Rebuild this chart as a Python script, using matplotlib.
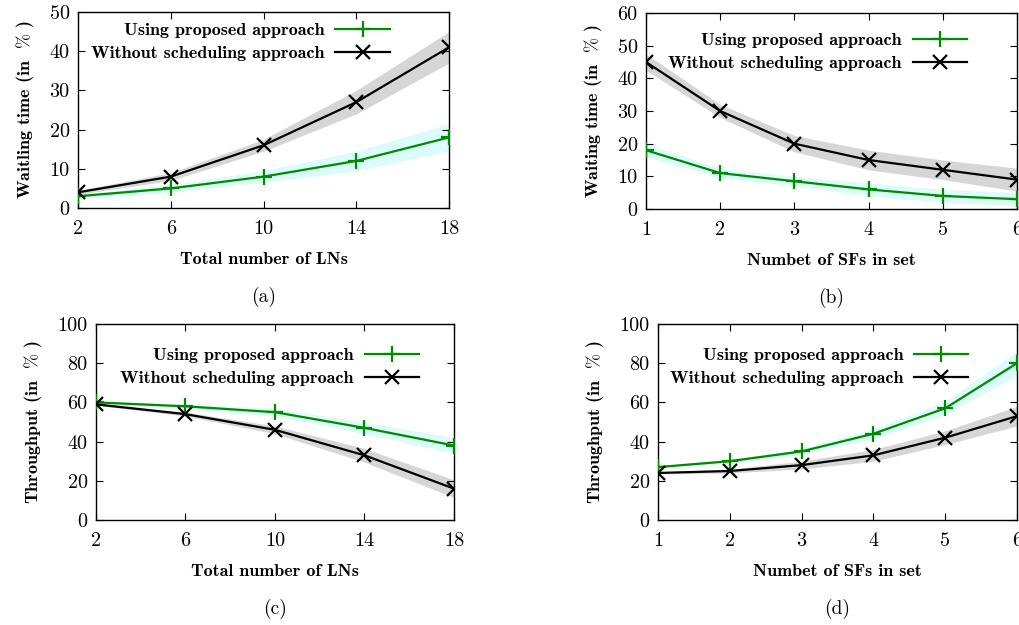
import matplotlib
matplotlib.use("Agg")
import matplotlib.pyplot as plt
import numpy as np

# data
lns = [2, 6, 10, 14, 18]
sfs = [1, 2, 3, 4, 5, 6]

wait_ln_prop = [3, 5, 8, 12, 18]
wait_ln_prop_err = [0.5, 1, 1.5, 2.5, 3.5]
wait_ln_none = [4, 8, 16, 27, 41]
wait_ln_none_err = [0.5, 1, 1.5, 3, 4]

wait_sf_prop = [18, 11, 8.5, 6, 4, 3]
wait_sf_prop_err = [2, 1.5, 1.5, 2, 2, 2]
wait_sf_none = [45, 30, 20, 15, 12, 9]
wait_sf_none_err = [2.5, 2, 2.5, 3, 3, 3.5]

thr_ln_prop = [60, 58, 55, 47, 38]
thr_ln_prop_err = [0.5, 1, 2, 3, 4]
thr_ln_none = [59, 54, 46, 33, 16]
thr_ln_none_err = [0.5, 1, 2, 3.5, 4.5]

thr_sf_prop = [27, 30, 35, 44, 57, 80]
thr_sf_prop_err = [0.5, 1, 1.5, 2.5, 3.5, 6]
thr_sf_none = [24, 25, 28, 33, 42, 53]
thr_sf_none_err = [0.5, 1, 2, 3, 3.5, 5]

GREEN = "#008a00"
BAND_G = "#dcfcfc"
BAND_K = "#d6d6d6"

RM = "cmr10"
BF = "cmb10"
plt.rcParams["mathtext.fontset"] = "cm"

fig = plt.figure(figsize=(10.2, 6.25), dpi=100)


def panel(rect, x, yp, ep, yn, en, ymax, ystep, xlabel, ylabel, cap, leg_anchor):
    ax = fig.add_axes(rect)
    x = np.array(x, float)
    yp, ep, yn, en = map(np.array, (yp, ep, yn, en))
    ax.fill_between(x, yp - ep, yp + ep, color=BAND_G, lw=0, zorder=1)
    ax.fill_between(x, yn - en, yn + en, color=BAND_K, lw=0, zorder=1)
    ax.plot(x, yp, color=GREEN, lw=1.6, marker="+", ms=11, mew=1.6,
            label="Using proposed approach", zorder=3)
    ax.plot(x, yn, color="black", lw=1.6, marker="x", ms=10, mew=1.6,
            label="Without scheduling approach", zorder=3)
    ax.set_xlim(x[0], x[-1])
    ax.set_ylim(0, ymax)
    ax.set_xticks(x)
    ax.set_xticklabels([str(int(v)) for v in x], fontfamily=RM, fontsize=14.5)
    yt = np.arange(0, ymax + 1, ystep)
    ax.set_yticks(yt)
    ax.set_yticklabels([str(int(v)) for v in yt], fontfamily=RM, fontsize=14.5)
    ax.tick_params(direction="in", top=True, right=True, length=5, width=0.8, pad=6)
    ax.tick_params(axis="x", pad=9)
    for s in ax.spines.values():
        s.set_linewidth(1.0)
    ax.set_xlabel(xlabel, fontfamily=BF, fontsize=13, labelpad=10)
    ax.set_ylabel(ylabel, fontfamily=BF, fontsize=13, labelpad=10)
    ax.legend(loc="upper right", bbox_to_anchor=leg_anchor, frameon=False,
              markerfirst=False, handlelength=3.0, handletextpad=0.6,
              labelspacing=0.4, borderpad=0, borderaxespad=0,
              prop={"family": BF, "size": 13})
    ax.text(0.5, -0.40, cap, transform=ax.transAxes, ha="center", va="top",
            fontfamily=RM, fontsize=14)
    return ax


panel([0.0765, 0.6672, 0.3637, 0.3136], lns, wait_ln_prop, wait_ln_prop_err,
      wait_ln_none, wait_ln_none_err, 50, 10, "Total number of LNs",
      r"Waitling time (in  $\%$ )", "(a)", (0.84, 0.945))
panel([0.6333, 0.6656, 0.3637, 0.3136], sfs, wait_sf_prop, wait_sf_prop_err,
      wait_sf_none, wait_sf_none_err, 60, 10, "Numbet of SFs in set",
      r"Waiting time (in  $\%$ )", "(b)", (0.865, 0.90))
panel([0.0941, 0.168, 0.351, 0.3136], lns, thr_ln_prop, thr_ln_prop_err,
      thr_ln_none, thr_ln_none_err, 100, 20, "Total number of LNs",
      r"Throughput (in  $\%$ )", "(c)", (0.902, 0.88))
panel([0.6451, 0.168, 0.352, 0.3136], sfs, thr_sf_prop, thr_sf_prop_err,
      thr_sf_none, thr_sf_none_err, 100, 20, "Numbet of SFs in set",
      r"Throughput (in  $\%$ )", "(d)", (0.864, 0.88))

fig.savefig("out.png", dpi=100)
